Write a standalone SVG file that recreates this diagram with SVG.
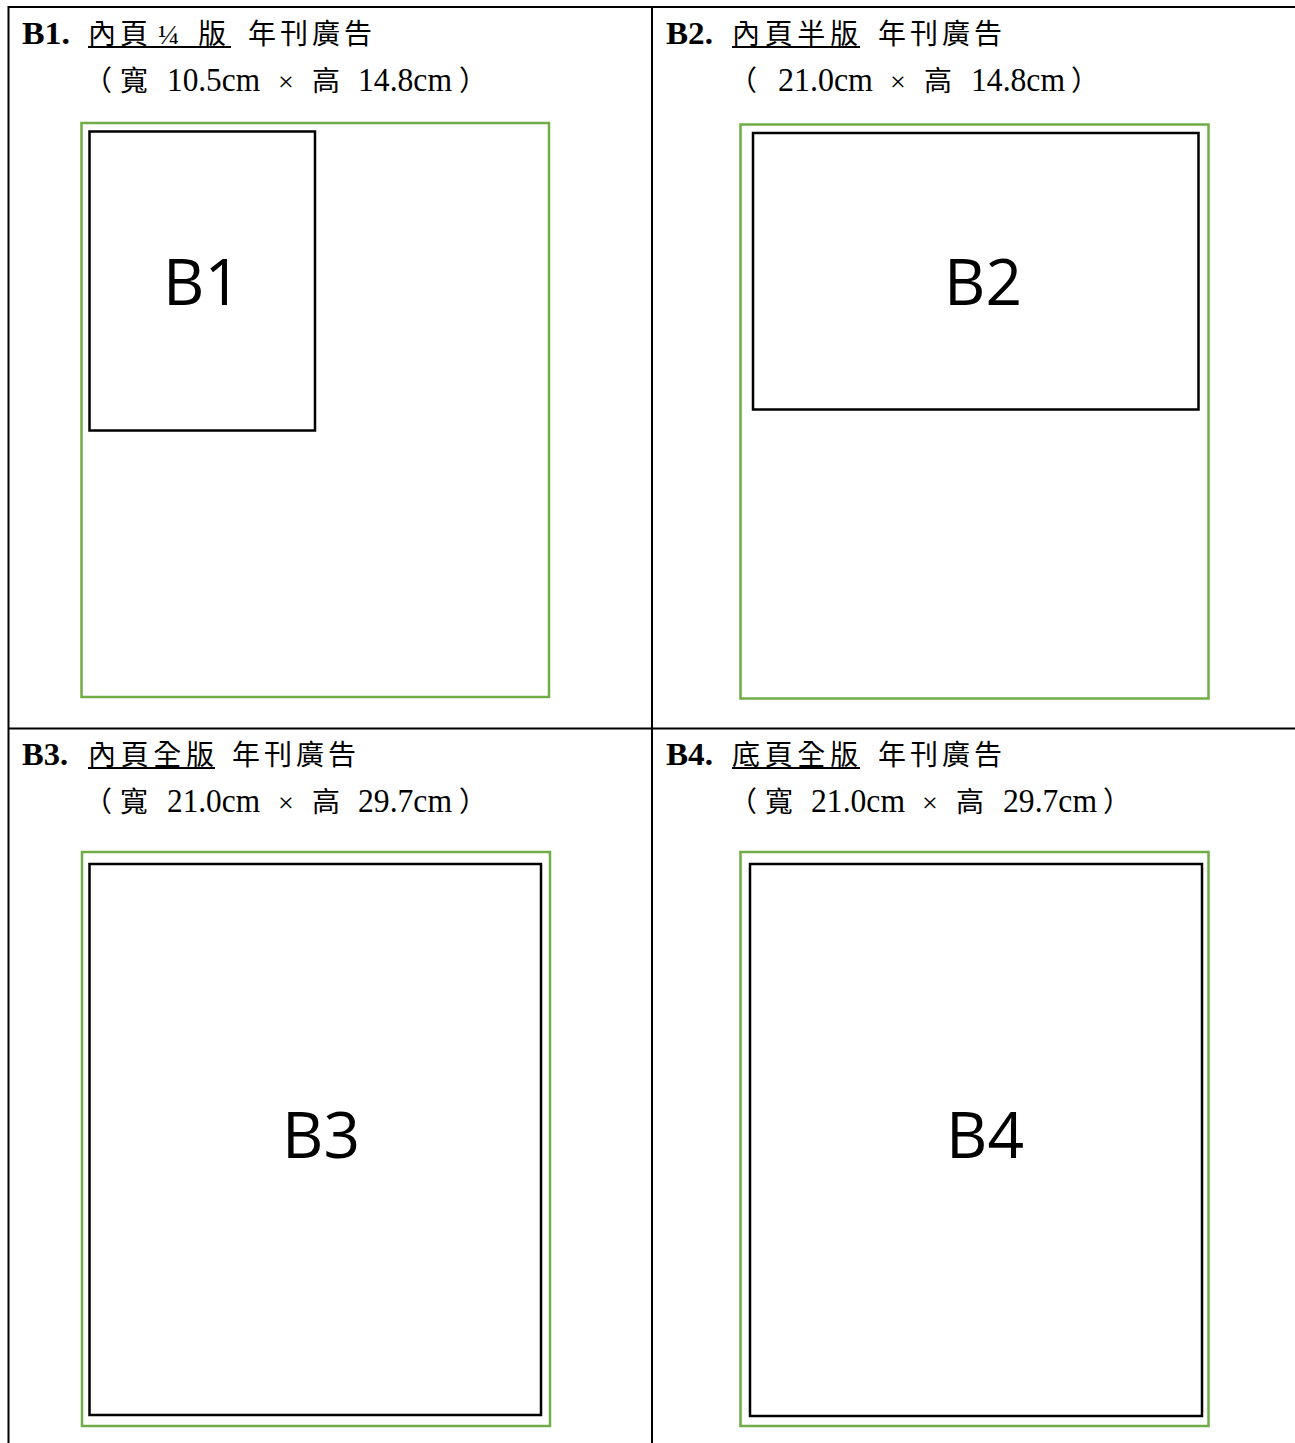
<svg xmlns="http://www.w3.org/2000/svg" width="1295" height="1443" viewBox="0 0 1295 1443">
<style>
.grid{stroke:#000;stroke-width:2;fill:none}
.page{fill:none;stroke:#70AD47;stroke-width:2.5}
.ad{fill:none;stroke:#000;stroke-width:2.5}
.t{font-family:"Liberation Serif","Noto Sans CJK TC",serif;font-size:28px;fill:#000}
.n{font-family:"Liberation Serif","Noto Sans CJK TC",serif;font-size:32px;font-weight:bold;fill:#000}
.d{font-family:"Liberation Serif",serif;font-size:33px}
.big{font-family:"Open Sans","Noto Sans",sans-serif;font-size:64px;fill:#000;text-anchor:middle}
.ul{stroke:#000;stroke-width:2}
</style>
<rect width="1295" height="1443" fill="#fff"/>
<g id="grid">
<line class="grid" x1="8" y1="7" x2="1295" y2="7"/>
<line class="grid" x1="8.5" y1="6" x2="8.5" y2="1443"/>
<line class="grid" x1="652" y1="6" x2="652" y2="1443"/>
<line class="grid" x1="8" y1="728.5" x2="1295" y2="728.5"/>
</g>
<g id="B1">
<text class="n" x="22" y="44" textLength="48" lengthAdjust="spacingAndGlyphs">B1.</text>
<text class="t" x="88" y="44">內</text><text class="t" x="120" y="44">頁</text>
<text class="t" x="158" y="44" font-size="20">¼</text>
<text class="t" x="198" y="44">版</text>
<line class="ul" x1="88" y1="47" x2="231" y2="47"/>
<text class="t" x="248" y="44" textLength="124" lengthAdjust="spacing">年刊廣告</text>
<text class="t" y="91"><tspan x="84">（</tspan><tspan x="120">寬</tspan><tspan class="d" x="167" textLength="93" lengthAdjust="spacingAndGlyphs">10.5cm</tspan><tspan x="278">×</tspan><tspan x="312">高</tspan><tspan class="d" x="358" textLength="94" lengthAdjust="spacingAndGlyphs">14.8cm</tspan><tspan x="459">）</tspan></text>
<rect class="page" x="81.5" y="123" width="467.5" height="574"/>
<rect class="ad" x="89.5" y="131.5" width="225.5" height="299"/>
<text class="big" x="202" y="305">B1</text>
</g>
<g id="B2">
<text class="n" x="666" y="44" textLength="47" lengthAdjust="spacingAndGlyphs">B2.</text>
<text class="t" x="732" y="44" textLength="126" lengthAdjust="spacing">內頁半版</text>
<line class="ul" x1="732" y1="47" x2="860" y2="47"/>
<text class="t" x="878" y="44" textLength="124" lengthAdjust="spacing">年刊廣告</text>
<text class="t" y="91"><tspan x="729">（</tspan><tspan class="d" x="778" textLength="95" lengthAdjust="spacingAndGlyphs">21.0cm</tspan><tspan x="890">×</tspan><tspan x="924">高</tspan><tspan class="d" x="971" textLength="94" lengthAdjust="spacingAndGlyphs">14.8cm</tspan><tspan x="1071">）</tspan></text>
<rect class="page" x="740.5" y="124.5" width="468" height="574"/>
<rect class="ad" x="753" y="133" width="445.5" height="276.5"/>
<text class="big" x="983" y="305">B2</text>
</g>
<g id="B3">
<text class="n" x="22" y="765" textLength="46" lengthAdjust="spacingAndGlyphs">B3.</text>
<text class="t" x="88" y="765" textLength="126" lengthAdjust="spacing">內頁全版</text>
<line class="ul" x1="88" y1="768" x2="215" y2="768"/>
<text class="t" x="232" y="765" textLength="124" lengthAdjust="spacing">年刊廣告</text>
<text class="t" y="812"><tspan x="84">（</tspan><tspan x="120">寬</tspan><tspan class="d" x="167" textLength="93" lengthAdjust="spacingAndGlyphs">21.0cm</tspan><tspan x="278">×</tspan><tspan x="312">高</tspan><tspan class="d" x="358" textLength="94" lengthAdjust="spacingAndGlyphs">29.7cm</tspan><tspan x="459">）</tspan></text>
<rect class="page" x="82" y="852" width="468" height="574"/>
<rect class="ad" x="89.5" y="864" width="451.5" height="551"/>
<text class="big" x="321" y="1158">B3</text>
</g>
<g id="B4">
<text class="n" x="666" y="765" textLength="47" lengthAdjust="spacingAndGlyphs">B4.</text>
<text class="t" x="732" y="765" textLength="126" lengthAdjust="spacing">底頁全版</text>
<line class="ul" x1="732" y1="768" x2="860" y2="768"/>
<text class="t" x="878" y="765" textLength="124" lengthAdjust="spacing">年刊廣告</text>
<text class="t" y="812"><tspan x="729">（</tspan><tspan x="765">寬</tspan><tspan class="d" x="811" textLength="94" lengthAdjust="spacingAndGlyphs">21.0cm</tspan><tspan x="922">×</tspan><tspan x="956">高</tspan><tspan class="d" x="1003" textLength="94" lengthAdjust="spacingAndGlyphs">29.7cm</tspan><tspan x="1103">）</tspan></text>
<rect class="page" x="740.5" y="852" width="468" height="574"/>
<rect class="ad" x="750" y="864" width="452" height="552"/>
<text class="big" x="985" y="1158">B4</text>
</g>
</svg>
